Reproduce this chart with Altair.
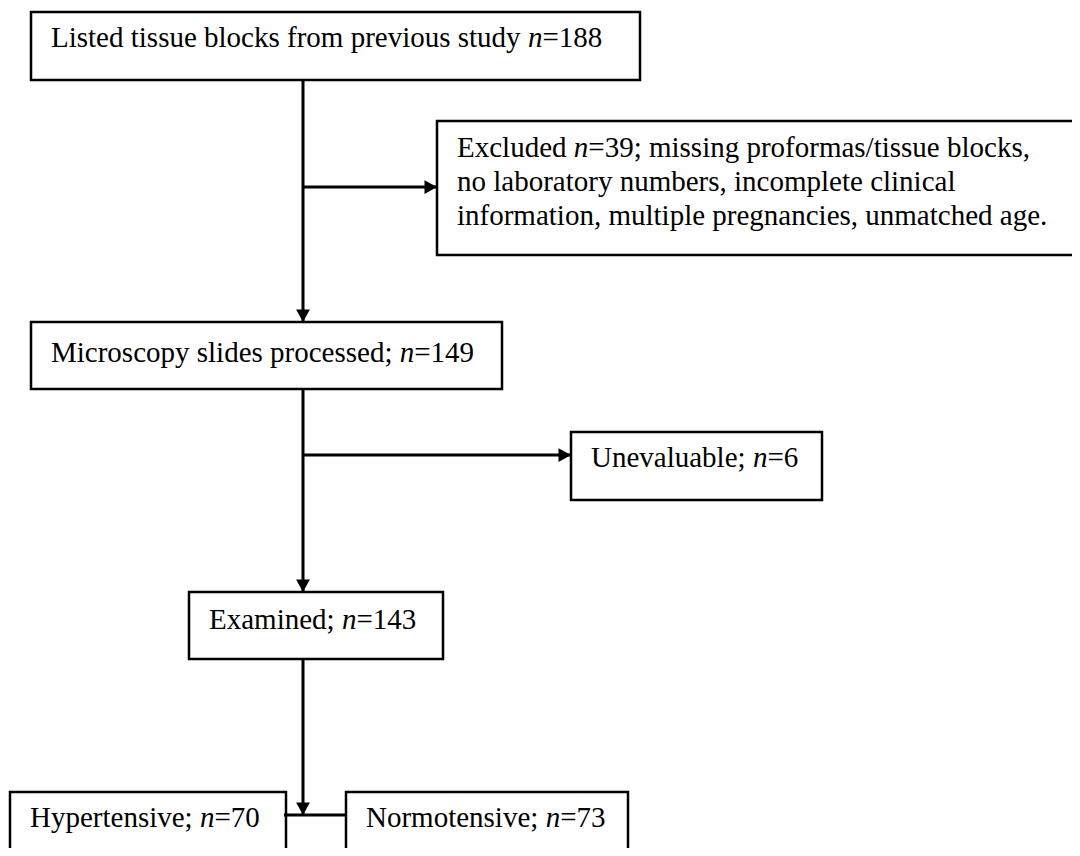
import altair as alt
import pandas as pd

FONT = "Liberation Serif"
FS = 29
INSET = 20

# ---- layout of the flowchart nodes (page pixel coordinates) ----
node_x0 = [31, 437, 31, 571, 189, 10, 346]
node_x1 = [640, 1077, 502, 822, 443, 286, 628]
node_y0 = [12, 121, 322, 432, 592, 792, 792]
node_y1 = [80, 255, 389, 500, 659, 900, 900]

# ---- label lines: node, regular prefix, italic part, regular suffix, line centre y ----
line_node = [0, 1, 1, 1, 2, 3, 4, 5, 6]
line_prefix = [
    "Listed tissue blocks from previous study ",
    "Excluded ",
    "no laboratory numbers, incomplete clinical",
    "information, multiple pregnancies, unmatched age.",
    "Microscopy slides processed; ",
    "Unevaluable; ",
    "Examined; ",
    "Hypertensive; ",
    "Normotensive; ",
]
line_italic = ["n", "n", "", "", "n", "n", "n", "n", "n"]
line_suffix = ["=188", "=39; missing proformas/tissue blocks,", "", "",
               "=149", "=6", "=143", "=70", "=73"]
line_y = [38, 148, 182, 216, 353, 458, 620, 818, 818]

# ---- connectors: start, end, arrowhead at end ----
seg_x0 = [303, 303, 303, 303, 303, 284]
seg_y0 = [80, 187, 389, 455, 659, 815]
seg_x1 = [303, 437, 303, 571, 303, 346]
seg_y1 = [322, 187, 592, 455, 815, 815]
seg_head = ["down", "right", "down", "right", "down", ""]

# Times / Liberation Serif advance widths (per em) for offsetting the italic part
W = {" ": .25, ",": .25, ".": .25, ";": .278, "=": .564, "/": .278,
     "E": .611, "H": .722, "L": .611, "M": .889, "N": .722, "U": .722,
     "a": .444, "b": .5, "c": .444, "d": .5, "e": .444, "f": .333, "g": .5,
     "h": .5, "i": .278, "k": .5, "l": .278, "m": .778, "n": .5, "o": .5,
     "p": .5, "r": .333, "s": .389, "t": .278, "u": .5, "v": .5, "x": .5, "y": .5}
ITALIC_N = 0.5


def width(s):
    return sum(W.get(c, 0.5) for c in s) * FS


boxes = pd.DataFrame({"x0": node_x0, "x1": node_x1, "y0": node_y0, "y1": node_y1})

reg_rows, ital_rows = [], []
for nd, pre, it, suf, y in zip(line_node, line_prefix, line_italic, line_suffix, line_y):
    x = node_x0[nd] + INSET
    reg_rows.append({"x": x, "y": y, "t": pre})
    if it:
        xi = x + width(pre)
        ital_rows.append({"x": xi, "y": y, "t": it})
        reg_rows.append({"x": xi + ITALIC_N * FS, "y": y, "t": suf})
reg = pd.DataFrame(reg_rows)
ital = pd.DataFrame(ital_rows)

segs = pd.DataFrame({"x0": seg_x0, "y0": seg_y0, "x1": seg_x1, "y1": seg_y1})
shapes = {"down": "M-0.55,-1L0.55,-1L0,0Z", "right": "M-1,-0.55L-1,0.55L0,0Z"}
heads = pd.DataFrame([{"x": x, "y": y, "shape": shapes[h]}
                      for x, y, h in zip(seg_x1, seg_y1, seg_head) if h])

xs = alt.Scale(domain=[8, 1072], nice=False, zero=False)
ys = alt.Scale(domain=[8, 848], nice=False, zero=False, reverse=True)

rects = alt.Chart(boxes).mark_rect(fill="white", stroke="black", strokeWidth=2.5, clip=True).encode(
    x=alt.X("x0:Q", scale=xs, axis=None), x2="x1:Q",
    y=alt.Y("y0:Q", scale=ys, axis=None), y2="y1:Q")

lines = alt.Chart(segs).mark_rule(color="black", strokeWidth=3).encode(
    x=alt.X("x0:Q", scale=xs, axis=None), x2="x1:Q",
    y=alt.Y("y0:Q", scale=ys, axis=None), y2="y1:Q")

arrow = alt.Chart(heads).mark_point(filled=True, fill="black", opacity=1, strokeWidth=0, size=625).encode(
    x=alt.X("x:Q", scale=xs, axis=None),
    y=alt.Y("y:Q", scale=ys, axis=None),
    shape=alt.Shape("shape:N", scale=None))

txt_reg = alt.Chart(reg).mark_text(align="left", baseline="middle", font=FONT, fontSize=FS,
                                   color="black").encode(
    x=alt.X("x:Q", scale=xs, axis=None), y=alt.Y("y:Q", scale=ys, axis=None), text="t:N")

txt_it = alt.Chart(ital).mark_text(align="left", baseline="middle", font=FONT, fontSize=FS,
                                   fontStyle="italic", color="black").encode(
    x=alt.X("x:Q", scale=xs, axis=None), y=alt.Y("y:Q", scale=ys, axis=None), text="t:N")

chart = alt.layer(rects, lines, arrow, txt_reg, txt_it).properties(
    width=1064, height=840, padding=0, background="white"
).configure_view(stroke=None)

chart.save("out.html", embed_options={"renderer": "svg", "actions": False})
